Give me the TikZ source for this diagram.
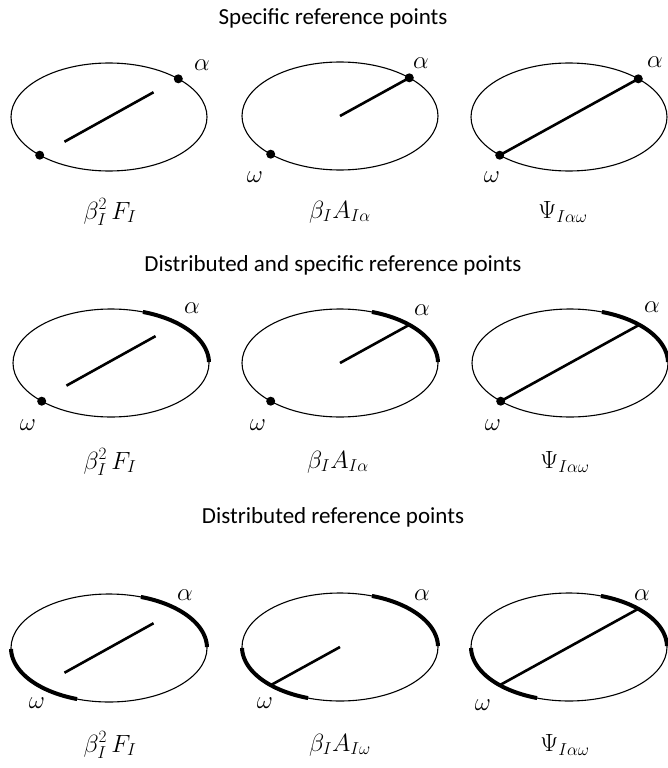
\documentclass[tikz,border=0pt]{standalone}
\usepackage{fontspec}
\setmainfont{Carlito}
\usetikzlibrary{calc}
\begin{document}
\begin{tikzpicture}[x=1pt,y=-1pt,
  ell/.style={line width=1.1pt},
  seg/.style={line width=2.6pt},
  thickarc/.style={line width=4pt},
  refdot/.style={circle,fill=black,inner sep=0pt,minimum size=9pt},
  ttl/.style={font=\fontsize{23}{27}\selectfont},
  lab/.style={font=\fontsize{26}{30}\selectfont},
  captxt/.style={font=\fontsize{27}{32}\selectfont}]
\useasboundingbox (0,0) rectangle (667,768);
% centres
\coordinate (c11) at (109,117);
\coordinate (c12) at (340,116);
\coordinate (c13) at (569,117);
\coordinate (c21) at (111,363);
\coordinate (c22) at (340,363);
\coordinate (c23) at (570,363);
\coordinate (c31) at (109,648);
\coordinate (c32) at (340,647);
\coordinate (c33) at (569,647);
% titles
\node[ttl] (t1) at (333,18) {Specific reference points};
\node[ttl] (t2) at (333,265) {Distributed and specific reference points};
\node[ttl] (t3) at (333,517) {Distributed reference points};
% ellipses
\foreach \c in {c11,c12,c13,c21,c22,c23,c31,c32,c33}
  \draw[ell] (\c) ellipse [x radius=98pt, y radius=54pt];
% ---------- row 1
\node[refdot] (a11) at ($(c11)+(-45:98 and 54)$) {};
\node[refdot] (w11) at ($(c11)+(135:98 and 54)$) {};
\coordinate (p11) at ($(c11)+(-45:63 and 35)$);
\coordinate (q11) at ($(c11)+(135:63 and 35)$);
\draw[seg] (q11) -- (p11);
\node[refdot] (a12) at ($(c12)+(-45:98 and 54)$) {};
\node[refdot] (w12) at ($(c12)+(135:98 and 54)$) {};
\draw[seg] (c12) -- (a12.center);
\node[refdot] (a13) at ($(c13)+(-45:98 and 54)$) {};
\node[refdot] (w13) at ($(c13)+(135:98 and 54)$) {};
\draw[seg] (w13.center) -- (a13.center);
\node[lab] (la11) at (202,65) {$\alpha$};
\node[lab] (la12) at (421,63) {$\alpha$};
\node[lab] (lw12) at (255,177) {$\omega$};
\node[lab] (la13) at (655,62) {$\alpha$};
\node[lab] (lw13) at (492,177) {$\omega$};
\node[captxt] (k11) at (110,212) {$\beta_{I}^{2}\,F_{I}$};
\node[captxt] (k12) at (340,212) {$\beta_IA_{I\alpha}$};
\node[captxt] (k13) at (563,212) {$\Psi_{I\alpha\omega}$};
% ---------- row 2
\foreach \c in {c21,c22,c23}{
  \begin{scope}[shift={(\c)}]
    \draw[thickarc] plot[domain=-71:-1,samples=40] (\x:98 and 54);
  \end{scope}}
\node[refdot] (w21) at ($(c21)+(135:98 and 54)$) {};
\coordinate (p21) at ($(c21)+(-45:63 and 38)$);
\coordinate (q21) at ($(c21)+(135:63 and 32)$);
\draw[seg] (q21) -- (p21);
\node[refdot] (w22) at ($(c22)+(135:98 and 54)$) {};
\coordinate (a22) at ($(c22)+(-45:98 and 54)$);
\draw[seg] (c22) -- (a22);
\node[refdot] (w23) at ($(c23)+(135:98 and 54)$) {};
\coordinate (a23) at ($(c23)+(-45:98 and 54)$);
\draw[seg] (w23.center) -- (a23);
\node[lab] (la21) at (192,308) {$\alpha$};
\node[lab] (lw21) at (28,425) {$\omega$};
\node[lab] (la22) at (422,310) {$\alpha$};
\node[lab] (lw22) at (258,425) {$\omega$};
\node[lab] (la23) at (652,307) {$\alpha$};
\node[lab] (lw23) at (493,425) {$\omega$};
\node[captxt] (k21) at (110,462) {$\beta_{I}^{2}\,F_{I}$};
\node[captxt] (k22) at (338,462) {$\beta_IA_{I\alpha}$};
\node[captxt] (k23) at (565,462) {$\Psi_{I\alpha\omega}$};
% ---------- row 3
\foreach \c in {c31,c32,c33}{
  \begin{scope}[shift={(\c)}]
    \draw[thickarc] plot[domain=-71:-1,samples=40] (\x:98 and 54);
    \draw[thickarc] plot[domain=109:179,samples=40] (\x:98 and 54);
  \end{scope}}
\coordinate (p31) at ($(c31)+(-45:63 and 35)$);
\coordinate (q31) at ($(c31)+(135:63 and 35)$);
\draw[seg] (q31) -- (p31);
\coordinate (w32) at ($(c32)+(135:98 and 54)$);
\draw[seg] (c32) -- (w32);
\coordinate (a33) at ($(c33)+(-45:98 and 54)$);
\coordinate (w33) at ($(c33)+(135:98 and 54)$);
\draw[seg] (w33) -- (a33);
\node[lab] (la31) at (185,595) {$\alpha$};
\node[lab] (lw31) at (37,703) {$\omega$};
\node[lab] (la32) at (422,595) {$\alpha$};
\node[lab] (lw32) at (265,703) {$\omega$};
\node[lab] (la33) at (642,595) {$\alpha$};
\node[lab] (lw33) at (483,705) {$\omega$};
\node[captxt] (k31) at (110,745) {$\beta_{I}^{2}\,F_{I}$};
\node[captxt] (k32) at (340,745) {$\beta_IA_{I\omega}$};
\node[captxt] (k33) at (565,745) {$\Psi_{I\alpha\omega}$};
\end{tikzpicture}
\end{document}
